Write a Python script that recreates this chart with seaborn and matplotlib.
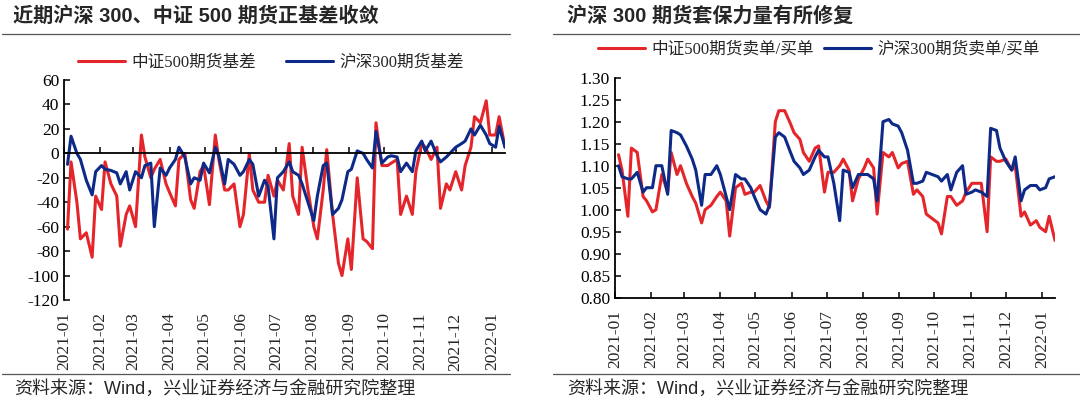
import numpy as np
import pandas as pd
import matplotlib
matplotlib.use('Agg')
import matplotlib.pyplot as plt
import matplotlib.dates as mdates
from matplotlib.lines import Line2D
import seaborn as sns

# values, one every 3 trading days from 2021-01-04
zz500_basis = [-62, -7, -40, -70, -65, -85, -35, -46, -7, -25, -35, -76, -50, -43, -60,
               15, -3, -20, -13, -5, -25, -32, -43, -5, 0, -38, -45, -15, -10, -42,
               15, -5, -30, -30, -25, -60, -50, 0, -30, -40, -40, -18, -35, -22, -30,
               8, -35, -50, 5, -30, -60, -70, -30, 3, -50, -90, -100, -70, -95, -20,
               -70, -72, -78, 25, -10, -10, -8, -5, -50, -35, -50, -15, 8, 5, -5,
               5, -45, -25, -30, -15, -30, -10, 5, 30, 25, 43, 15, 15, 30, 5]
hs300_basis = [-9, 14, 0, -5, -22, -34, -15, -10, -13, -14, -16, -25, -15, -30, -15,
               -20, -10, -8, -60, -12, -18, -12, -5, 5, -3, -25, -20, -22, -8, -16,
               5, -2, -25, -5, -9, -18, -15, -5, -9, -35, -22, -27, -70, -20, -15,
               -7, -15, -18, -25, -40, -55, -35, -10, -8, -50, -45, -38, -15, -13, 2,
               0, -5, -12, 18, -8, -3, -2, -3, -15, -8, -15, 2, 10, 2, 10,
               -2, -7, -3, 0, 5, 8, 10, 20, 15, 23, 15, 8, 5, 22, 5]

zz500_ratio = [1.125, 1.09, 0.985, 1.14, 1.13, 1.03, 1.02, 0.995, 1.00, 1.08, 1.04, 1.13, 1.08, 1.10, 1.06,
               1.03, 1.015, 0.97, 1.00, 1.01, 1.03, 1.04, 1.02, 0.94, 1.05, 1.06, 1.035, 1.04, 1.04, 1.055,
               1.02, 1.005, 1.20, 1.225, 1.225, 1.195, 1.175, 1.16, 1.13, 1.11, 1.14, 1.145, 1.04, 1.085, 1.085,
               1.10, 1.115, 1.09, 1.02, 1.07, 1.095, 1.115, 1.095, 0.99, 1.13, 1.12, 1.13, 1.095, 1.105, 1.11,
               1.035, 1.045, 1.03, 0.99, 0.98, 0.97, 0.945, 1.03, 1.03, 1.01, 1.02, 1.04, 1.06, 1.06, 1.06,
               0.95, 1.12, 1.11, 1.11, 1.115, 1.09, 1.10, 0.985, 0.995, 0.965, 0.975, 0.96, 0.95, 0.985, 0.93]
hs300_ratio = [1.10, 1.075, 1.07, 1.07, 1.085, 1.04, 1.05, 1.05, 1.10, 1.10, 1.035, 1.18, 1.175, 1.17, 1.145,
               1.115, 1.09, 1.01, 1.08, 1.08, 1.10, 1.08, 1.03, 1.00, 1.08, 1.07, 1.07, 1.05, 1.03, 1.00,
               0.99, 1.01, 1.165, 1.175, 1.165, 1.13, 1.11, 1.095, 1.08, 1.09, 1.12, 1.135, 1.12, 1.12, 1.06,
               0.975, 1.09, 1.085, 1.05, 1.08, 1.08, 1.08, 1.07, 1.02, 1.20, 1.205, 1.195, 1.19, 1.175, 1.135,
               1.06, 1.06, 1.065, 1.085, 1.08, 1.075, 1.065, 1.08, 1.045, 1.085, 1.10, 1.035, 1.04, 1.045, 1.04,
               1.03, 1.185, 1.18, 1.14, 1.11, 1.09, 1.12, 1.02, 1.045, 1.055, 1.055, 1.045, 1.05, 1.07, 1.075]

left_labels = ['中证500期货基差', '沪深300期货基差']
right_labels = ['中证500期货卖单/买单', '沪深300期货卖单/买单']
left_title = '近期沪深 300、中证 500 期货正基差收敛'
right_title = '沪深 300 期货套保力量有所修复'
source = '资料来源：Wind，兴业证券经济与金融研究院整理'

RED = '#E4262B'
BLUE = '#0E2A88'

sns.set_theme(style='white')
serif = ['Liberation Serif', 'Noto Sans CJK SC']
sans = ['Liberation Sans', 'Noto Sans CJK SC']
plt.rcParams['font.family'] = serif
plt.rcParams['axes.unicode_minus'] = False

dates = pd.bdate_range('2021-01-04', periods=len(zz500_basis), freq='3B')
left_df = pd.DataFrame({
    'date': np.concatenate([dates, dates]),
    'value': zz500_basis + hs300_basis,
    'series': [left_labels[0]] * len(dates) + [left_labels[1]] * len(dates),
})
right_df = pd.DataFrame({
    'date': np.concatenate([dates, dates]),
    'value': zz500_ratio + hs300_ratio,
    'series': [right_labels[0]] * len(dates) + [right_labels[1]] * len(dates),
})

W, H = 1080, 404
fig = plt.figure(figsize=(W / 100, H / 100), dpi=100)
ax1 = fig.add_axes([64 / W, 1 - 300 / H, 441 / W, 220 / H])
ax2 = fig.add_axes([615 / W, 1 - 297.7 / H, 440 / W, 220 / H])


def style_axis(ax, df, labels, ylim, yticks, legend_xy, colspace, zero_spine):
    sns.lineplot(data=df, x='date', y='value', hue='series', hue_order=labels,
                 palette=[RED, BLUE], linewidth=2.2, ax=ax)
    ax.set_xlim(pd.Timestamp('2021-01-01'), dates[-1])
    ax.set_ylim(*ylim)
    ax.set_yticks(yticks)
    ax.set_xlabel('')
    ax.set_ylabel('')
    for s in ['top', 'right']:
        ax.spines[s].set_visible(False)
    for s in ['left', 'bottom']:
        ax.spines[s].set_color('black')
        ax.spines[s].set_linewidth(1.3)
    ax.xaxis.set_major_locator(mdates.MonthLocator())
    ax.tick_params(axis='both', direction='in', length=4, width=1.1, color='black',
                   labelsize=12.5, labelcolor='black', left=True, bottom=True)
    if zero_spine:
        ax.spines['bottom'].set_position(('data', 0))
    ax.tick_params(axis='x', labelbottom=False)
    sec = ax.secondary_xaxis('bottom')
    sec.spines['bottom'].set_visible(False)
    sec.xaxis.set_major_locator(mdates.MonthLocator())
    sec.xaxis.set_major_formatter(mdates.DateFormatter('%Y-%m'))
    sec.tick_params(axis='x', length=0, pad=9, labelsize=12.5, labelrotation=90)
    sns.move_legend(ax, 'center', bbox_to_anchor=legend_xy, ncol=2, frameon=False,
                    title=None, fontsize=12, handlelength=2.8, handletextpad=0.4,
                    columnspacing=colspace)


style_axis(ax1, left_df, left_labels, (-120, 60), np.arange(-120, 61, 20),
           (0.47, 1.077), 1.8, True)
style_axis(ax2, right_df, right_labels, (0.80, 1.30), np.arange(0.80, 1.301, 0.05),
           (0.464, 1.126), 0.6, False)
ax2.yaxis.set_major_formatter(matplotlib.ticker.FormatStrFormatter('%.2f'))

# titles, rules and source notes
fig.text(13 / W, 1 - 16 / H, left_title, family=sans, weight='bold', fontsize=14.5,
         va='center', ha='left')
fig.text(567 / W, 1 - 16 / H, right_title, family=sans, weight='bold', fontsize=14.5,
         va='center', ha='left')
for x0, x1 in [(2, 510), (553, 1080)]:
    for y in [34, 374]:
        fig.add_artist(Line2D([x0 / W, x1 / W], [1 - y / H, 1 - y / H],
                              color='#555555', linewidth=0.9))
fig.text(14 / W, 1 - 389 / H, source, family=sans, fontsize=13, va='center', ha='left')
fig.text(567 / W, 1 - 389 / H, source, family=sans, fontsize=13, va='center', ha='left')

fig.savefig('out.png', dpi=100, facecolor='white')
